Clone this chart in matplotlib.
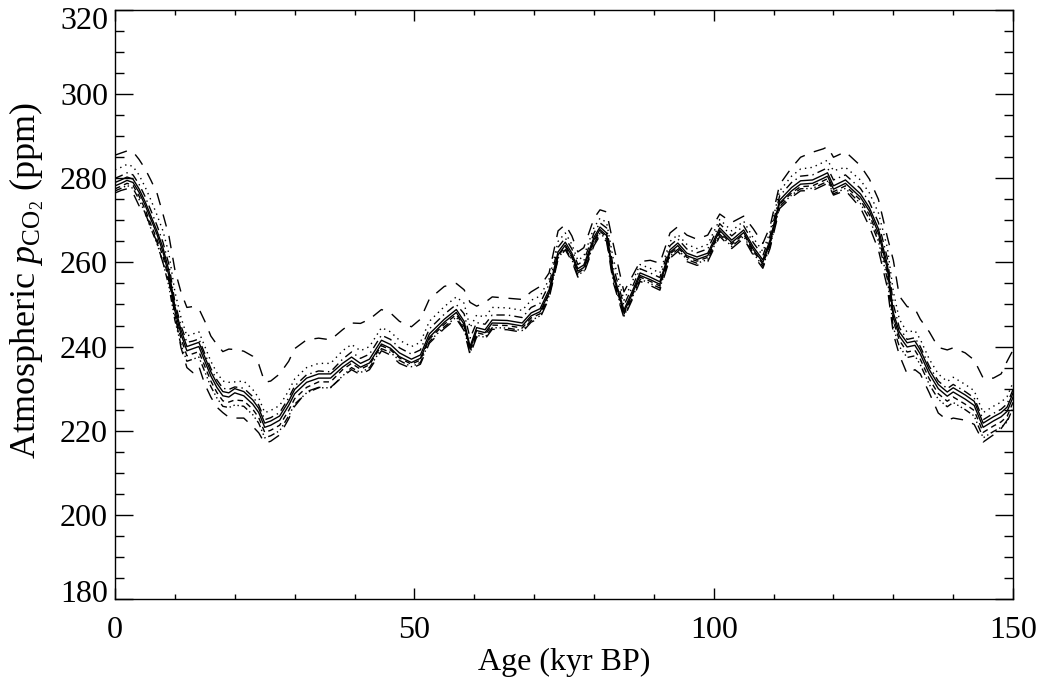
import matplotlib
matplotlib.use("Agg")
import matplotlib.pyplot as plt
import matplotlib.transforms as mtransforms

# age grid (kyr BP)
age = [0, 1, 2, 3, 4, 5, 6, 7, 8, 9, 10, 11, 12, 13, 14, 15, 16, 17, 18, 19,
       20, 21.5, 23, 24, 25, 26, 27.5, 29, 30, 32, 34, 36, 38, 39.5, 41, 42.5, 44.5, 46, 47.5, 49.5,
       51, 52.5, 55, 57, 58.3, 59.3, 60.4, 61.8, 63, 65.5, 68, 69.5, 71, 72.5, 74, 75.2, 76.3, 77.3, 78.3, 80,
       81, 82.1, 83.2, 85, 86.5, 87.7, 89.4, 91, 92.7, 94, 95.5, 97.2, 99, 101, 103, 105, 106.6, 108.2, 109.4, 111,
       113, 114.5, 116.5, 118.3, 119, 120, 122, 124.5, 126, 127.5, 129, 130, 131, 132.3, 133.6, 134.5, 136, 137.5, 139, 140,
       142, 143.5, 145, 146.7, 148, 149, 150]

solid_a = [279.0, 279.6, 280.3, 279.8, 277.5, 274.5, 271.0, 267.5, 263.5, 258.0,
           249.5, 244.0, 240.0, 240.5, 241.0, 237.5, 234.0, 231.3, 229.3, 229.0,
           230.0, 229.3, 227.3, 225.3, 221.8, 222.3, 223.5, 227.0, 229.8, 232.5,
           233.5, 233.5, 236.0, 237.5, 236.0, 237.0, 241.5, 240.5, 238.5, 237.0,
           238.0, 243.0, 246.5, 248.8, 246.0, 240.0, 244.5, 244.0, 246.3, 246.2,
           245.6, 248.0, 249.0, 253.5, 262.5, 264.8, 262.2, 258.5, 259.4, 266.0,
           268.4, 267.0, 257.5, 248.7, 253.5, 257.5, 256.5, 255.4, 263.0, 264.6,
           262.2, 261.3, 262.2, 268.2, 265.3, 267.7, 263.7, 260.6, 265.3, 274.8,
           277.8, 279.4, 279.6, 280.8, 281.3, 278.2, 279.6, 276.3, 273.0, 268.0,
           259.5, 248.0, 243.5, 240.9, 241.3, 239.2, 234.5, 231.0, 229.2, 230.2,
           228.5, 227.0, 221.8, 223.3, 224.3, 225.6, 229.0]

solid_b = [278.2, 278.8, 279.5, 279.0, 276.7, 273.7, 270.2, 266.7, 262.5, 256.8,
           248.5, 243.0, 239.0, 239.5, 240.0, 236.5, 233.0, 230.3, 228.3, 228.0,
           229.0, 228.3, 226.3, 224.3, 220.8, 221.3, 222.5, 226.0, 228.8, 231.5,
           232.5, 232.5, 235.1, 236.6, 235.1, 236.1, 240.6, 239.6, 237.6, 236.2,
           237.2, 242.2, 245.8, 248.1, 245.3, 239.4, 243.8, 243.3, 245.6, 245.5,
           244.9, 247.3, 248.3, 252.8, 261.8, 264.1, 261.6, 257.9, 258.8, 265.4,
           267.8, 266.4, 256.9, 248.1, 252.9, 256.9, 255.9, 254.8, 262.4, 264.0,
           261.6, 260.7, 261.6, 267.6, 264.7, 267.1, 263.1, 260.0, 264.7, 274.1,
           277.0, 278.6, 278.8, 280.0, 280.5, 277.4, 278.8, 275.5, 272.2, 267.0,
           258.5, 247.0, 242.5, 239.9, 240.3, 238.2, 233.5, 230.0, 228.2, 229.2,
           227.5, 226.0, 220.8, 222.3, 223.3, 224.6, 228.0]

dash_dot = [280.0, 280.6, 281.3, 280.8, 278.6, 275.7, 272.3, 268.8, 264.8, 259.5,
            250.5, 245.0, 241.0, 241.3, 241.8, 238.3, 234.8, 232.1, 230.1, 229.8,
            230.4, 230.1, 228.1, 226.1, 222.6, 223.1, 224.3, 227.8, 230.6, 233.3,
            234.2, 234.0, 237.0, 238.7, 237.2, 238.2, 242.7, 241.7, 239.7, 238.2,
            239.2, 244.2, 247.7, 250.0, 247.8, 242.0, 245.7, 245.3, 247.5, 247.5,
            246.9, 249.3, 250.3, 254.8, 263.6, 265.8, 263.2, 259.5, 260.4, 267.0,
            269.4, 268.2, 259.0, 249.8, 254.5, 258.5, 257.5, 256.4, 264.0, 265.6,
            263.2, 262.3, 263.2, 269.2, 266.3, 268.7, 264.7, 261.6, 266.3, 275.8,
            279.0, 280.5, 280.8, 282.0, 282.5, 279.6, 280.8, 277.6, 274.3, 269.5,
            261.0, 250.0, 244.5, 241.7, 242.1, 240.0, 235.3, 231.8, 230.0, 231.0,
            229.3, 227.8, 222.6, 224.1, 225.1, 226.4, 229.8]

dotted = [282.0, 282.6, 283.3, 282.8, 280.8, 278.0, 274.8, 271.3, 267.5, 262.0,
          253.0, 247.0, 242.5, 243.0, 243.5, 240.0, 236.5, 233.8, 231.8, 231.5,
          231.6, 231.8, 229.8, 227.8, 224.3, 224.8, 226.0, 229.5, 232.3, 235.0,
          236.0, 236.0, 239.0, 240.5, 239.0, 240.0, 244.5, 243.5, 241.5, 240.0,
          241.0, 246.0, 249.5, 251.8, 250.3, 244.5, 247.5, 247.0, 249.3, 249.2,
          248.6, 251.0, 252.0, 256.0, 265.0, 267.0, 264.3, 260.5, 261.5, 268.3,
          270.5, 269.5, 261.0, 251.0, 255.8, 259.5, 258.6, 257.5, 265.0, 266.6,
          264.3, 263.3, 264.3, 270.2, 267.5, 269.8, 265.8, 262.6, 267.3, 277.0,
          280.5, 282.2, 282.6, 283.8, 284.3, 281.8, 282.6, 279.6, 276.5, 271.8,
          263.5, 253.0, 246.5, 243.4, 243.8, 241.7, 237.0, 233.5, 231.7, 232.7,
          231.0, 229.5, 224.3, 225.8, 226.8, 228.1, 231.5]

long_top = [285.5, 286.0, 286.5, 286.3, 284.5, 282.3, 279.5, 276.5, 271.5, 266.3,
            258.2, 253.0, 249.3, 249.5, 249.0, 246.0, 242.5, 240.5, 238.8, 239.4,
            239.3, 238.9, 237.7, 235.8, 231.5, 231.8, 233.5, 236.5, 239.5, 241.6,
            242.0, 241.6, 244.0, 245.6, 245.5, 246.5, 248.8, 248.0, 246.0, 244.7,
            246.5, 251.3, 254.3, 255.0, 253.5, 250.5, 249.6, 250.5, 251.8, 251.5,
            251.2, 253.0, 254.3, 257.5, 267.5, 269.0, 266.3, 262.5, 263.5, 270.5,
            272.5, 272.0, 264.5, 253.0, 257.0, 260.2, 260.5, 259.8, 267.0, 268.5,
            266.5, 265.5, 266.5, 271.5, 269.5, 271.0, 268.0, 264.5, 268.5, 278.5,
            282.5, 285.0, 286.2, 287.0, 287.5, 285.0, 286.3, 283.0, 279.8, 275.0,
            266.0, 260.5, 252.0, 249.5, 249.0, 246.5, 243.5, 239.8, 239.2, 239.7,
            238.5, 236.8, 232.5, 232.5, 233.5, 236.5, 239.2]

dashed = [277.5, 278.1, 278.8, 278.3, 275.8, 272.7, 269.0, 265.5, 261.5, 255.8,
          247.5, 242.0, 237.8, 238.3, 238.8, 235.3, 231.8, 229.1, 227.1, 226.8,
          227.3, 227.1, 225.1, 223.1, 219.6, 220.1, 221.3, 224.8, 227.6, 230.3,
          231.6, 231.6, 234.5, 236.0, 234.6, 235.7, 240.2, 239.2, 237.3, 235.8,
          236.8, 241.8, 245.3, 247.6, 244.8, 239.0, 243.3, 242.8, 245.1, 245.0,
          244.4, 246.8, 247.8, 252.5, 261.5, 263.8, 261.2, 257.5, 258.4, 265.0,
          267.4, 266.0, 256.5, 247.7, 252.5, 256.5, 255.5, 254.4, 262.0, 263.6,
          261.2, 260.3, 261.2, 267.2, 264.3, 266.7, 262.7, 259.6, 264.3, 273.8,
          276.5, 278.0, 278.2, 279.4, 279.9, 276.8, 278.2, 274.8, 271.3, 266.0,
          257.5, 246.0, 241.5, 238.7, 239.1, 237.0, 232.3, 228.8, 227.0, 228.0,
          226.3, 224.8, 219.6, 221.1, 222.1, 223.4, 226.8]

dash_dot3 = [277.0, 277.6, 278.3, 277.6, 275.0, 271.8, 268.0, 264.5, 260.0, 254.3,
             246.2, 240.5, 236.5, 237.0, 237.5, 234.0, 230.5, 227.8, 225.8, 225.5,
             226.1, 225.8, 223.8, 221.8, 218.3, 218.8, 220.0, 223.5, 226.3, 229.0,
             230.2, 230.2, 233.0, 235.0, 233.8, 235.0, 239.5, 238.6, 236.7, 235.2,
             236.2, 241.2, 244.7, 247.0, 244.2, 238.5, 242.7, 242.2, 244.5, 244.4,
             243.8, 246.2, 247.3, 252.0, 261.0, 263.3, 260.7, 257.0, 257.9, 264.5,
             266.9, 265.5, 256.0, 247.2, 252.0, 256.0, 255.0, 253.9, 261.5, 263.1,
             260.7, 259.8, 260.7, 266.7, 263.8, 266.2, 262.2, 259.1, 263.8, 273.3,
             276.0, 277.5, 277.6, 278.8, 279.3, 276.3, 277.6, 274.0, 270.3, 265.0,
             256.0, 244.5, 240.0, 237.4, 237.8, 235.7, 231.0, 227.5, 225.7, 226.7,
             225.0, 223.5, 218.3, 219.8, 220.8, 222.1, 225.5]

long_bottom = [276.5, 277.1, 277.5, 276.5, 273.5, 271.8, 268.3, 264.8, 259.9, 255.5,
               248.0, 239.8, 235.0, 233.8, 235.3, 231.0, 228.0, 225.6, 224.3, 223.2,
               223.0, 223.0, 221.0, 219.5, 217.0, 217.5, 219.0, 222.8, 225.8, 229.3,
               230.3, 230.3, 232.8, 234.5, 233.3, 234.5, 239.0, 238.0, 236.0, 234.8,
               235.8, 240.8, 244.3, 246.6, 243.8, 238.0, 242.3, 241.8, 244.1, 244.0,
               243.4, 245.8, 246.8, 251.5, 260.8, 263.0, 260.3, 256.5, 257.4, 264.0,
               266.4, 265.0, 255.3, 246.8, 251.5, 255.5, 254.5, 253.4, 261.0, 262.6,
               260.2, 259.3, 260.2, 266.2, 263.3, 265.7, 261.7, 258.6, 263.3, 272.8,
               275.5, 277.0, 277.1, 278.3, 278.8, 276.0, 277.1, 273.0, 268.5, 263.0,
               254.0, 243.0, 238.0, 233.5, 234.5, 233.5, 229.0, 224.2, 222.5, 223.0,
               222.5, 221.5, 217.3, 219.0, 220.5, 222.5, 224.5]

x_major = [0, 50, 100, 150]
x_minor = [10, 20, 30, 40, 60, 70, 80, 90, 110, 120, 130, 140]
y_major = [180, 200, 220, 240, 260, 280, 300, 320]
y_minor = [185, 190, 195, 205, 210, 215, 225, 230, 235, 245, 250, 255, 265, 270, 275,
           285, 290, 295, 305, 310, 315]

plt.rcParams["font.family"] = "Liberation Serif"
plt.rcParams["mathtext.fontset"] = "custom"
plt.rcParams["mathtext.rm"] = "Liberation Serif"
plt.rcParams["mathtext.it"] = "Liberation Serif:italic"

fig = plt.figure(figsize=(10.44, 6.84), dpi=100)
ax = fig.add_axes([0.1102, 0.1243, 0.8602, 0.8611])

lw = 1.0
ax.plot(age, solid_a, color="black", lw=lw, linestyle="-")
ax.plot(age, solid_b, color="black", lw=lw, linestyle="-")
ax.plot(age, dash_dot, color="black", lw=lw, linestyle=(0, (6, 3, 1, 3)))
ax.plot(age, dotted, color="black", lw=lw, linestyle=(0, (1, 3)))
ax.plot(age, long_top, color="black", lw=lw, linestyle=(0, (9, 7)))
ax.plot(age, dashed, color="black", lw=lw, linestyle=(0, (4, 3)))
ax.plot(age, dash_dot3, color="black", lw=lw, linestyle=(0, (5, 2, 1, 2, 1, 2, 1, 2)))
ax.plot(age, long_bottom, color="black", lw=lw, linestyle=(0, (9, 7)))

ax.set_xlim(0, 150)
ax.set_ylim(180, 320)
ax.set_xticks(x_major)
ax.set_xticks(x_minor, minor=True)
ax.set_yticks(y_major)
ax.set_yticks(y_minor, minor=True)
ax.tick_params(which="both", direction="in", top=True, right=True, labelsize=23, width=1.0)
ax.tick_params(axis="x", which="major", length=8, pad=12)
ax.tick_params(axis="x", which="minor", length=3.6)
ax.tick_params(axis="y", which="major", length=13, pad=5)
ax.tick_params(axis="y", which="minor", length=6.5)
for s in ax.spines.values():
    s.set_linewidth(1.0)

ax.set_xlabel("Age (kyr BP)", fontsize=23, labelpad=2)
ax.set_ylabel(r"Atmospheric $p_{\mathrm{CO_2}}$ (ppm)", fontsize=26)
ax.yaxis.set_label_coords(-0.077, 0.54)

# edge labels sit inside the axis range, as in the original
fig.canvas.draw()
yt = ax.yaxis.get_major_ticks()
up = mtransforms.ScaledTranslation(0, 0.08, fig.dpi_scale_trans)
down = mtransforms.ScaledTranslation(0, -0.08, fig.dpi_scale_trans)
yt[0].label1.set_transform(yt[0].label1.get_transform() + up)
yt[-1].label1.set_transform(yt[-1].label1.get_transform() + down)

fig.savefig("out.png", dpi=100)
